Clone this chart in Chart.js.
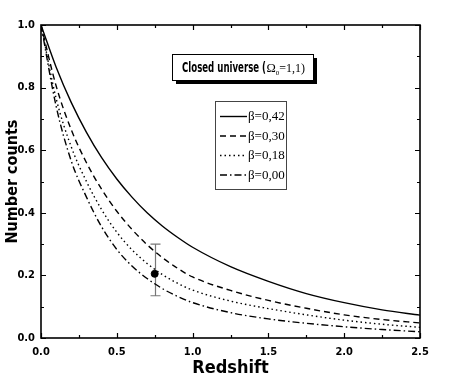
<!DOCTYPE html>
<html>
<head>
<meta charset="utf-8">
<script src="https://cdn.jsdelivr.net/npm/chart.js@4"></script>
<style>
html,body{margin:0;padding:0;background:#fff;}
#wrap{width:463px;height:382px;position:relative;}
</style>
</head>
<body>
<div id="wrap"><canvas id="c" width="463" height="382"></canvas></div>
<script>
// ---- data ----
const redshift = [0, 0.1, 0.2, 0.3, 0.4, 0.5, 0.6, 0.7, 0.8, 0.9, 1.0, 1.25, 1.5, 1.75, 2.0, 2.25, 2.5];
const beta042 = [1.0, 0.865, 0.752, 0.657, 0.576, 0.508, 0.450, 0.400, 0.358, 0.322, 0.290, 0.228, 0.181, 0.142, 0.113, 0.090, 0.073];
const beta030 = [1.0, 0.805, 0.665, 0.560, 0.475, 0.405, 0.347, 0.298, 0.257, 0.223, 0.195, 0.152, 0.120, 0.095, 0.074, 0.059, 0.048];
const beta018 = [1.0, 0.765, 0.610, 0.500, 0.410, 0.338, 0.282, 0.238, 0.203, 0.175, 0.153, 0.118, 0.094, 0.074, 0.057, 0.044, 0.034];
const beta000 = [1.0, 0.740, 0.565, 0.450, 0.355, 0.283, 0.230, 0.190, 0.158, 0.133, 0.113, 0.081, 0.061, 0.047, 0.036, 0.027, 0.020];
const seriesLabels = ['β=0,42', 'β=0,30', 'β=0,18', 'β=0,00'];
const obsX = [0.75];
const obsY = [0.205];
const obsLow = [0.135];
const obsHigh = [0.30];
const xTickStep = 0.5;
const yTickStep = 0.2;
const titleMain = 'Closed universe (';
const titleOmega = 'Ω';
const titleSub = '0';
const titleTail = '=1,1)';
const xTitle = 'Redshift';
const yTitle = 'Number counts';

const SANS = '"Liberation Sans Narrow", "Arial Narrow", "DejaVu Sans Condensed", "Liberation Sans", Arial, sans-serif';
const SERIF = '"Liberation Serif", "Times New Roman", serif';

const toPts = ys => redshift.map((x, i) => ({x: x, y: ys[i]}));
const dashes = [[], [6, 4], [1.5, 3], [7, 3, 1.5, 3]];
const allSeries = [beta042, beta030, beta018, beta000];

const datasets = allSeries.map((ys, i) => ({
  label: seriesLabels[i],
  data: toPts(ys),
  showLine: true,
  borderColor: '#000',
  borderWidth: 1.4,
  borderDash: dashes[i],
  pointRadius: 0,
  cubicInterpolationMode: 'monotone',
  fill: false
}));
datasets.push({
  label: 'obs',
  data: obsX.map((x, i) => ({x: x, y: obsY[i]})),
  showLine: false,
  pointRadius: 3.5,
  pointBackgroundColor: '#000',
  pointBorderColor: '#000'
});

const errorBars = {
  id: 'errorBars',
  beforeDatasetsDraw(chart) {
    const {ctx, scales: {x, y}} = chart;
    ctx.save();
    ctx.strokeStyle = '#777';
    ctx.lineWidth = 1.2;
    obsX.forEach((v, i) => {
      const px = Math.round(x.getPixelForValue(v)) + 0.5;
      const pl = y.getPixelForValue(obsLow[i]);
      const ph = y.getPixelForValue(obsHigh[i]);
      ctx.beginPath();
      ctx.moveTo(px, pl); ctx.lineTo(px, ph);
      ctx.moveTo(px - 5, pl); ctx.lineTo(px + 5, pl);
      ctx.moveTo(px - 5, ph); ctx.lineTo(px + 5, ph);
      ctx.stroke();
    });
    ctx.restore();
  }
};

function fitText(ctx, text, x, y, maxW) {
  const w = ctx.measureText(text).width;
  const s = w > maxW ? maxW / w : 1;
  ctx.save();
  ctx.translate(x, y);
  ctx.scale(s, 1);
  ctx.fillText(text, 0, 0);
  ctx.restore();
  return w * s;
}

const frame = {
  id: 'frame',
  afterDraw(chart) {
    const {ctx, chartArea: a, scales: {x, y}} = chart;
    ctx.save();
    ctx.strokeStyle = '#000';
    ctx.lineWidth = 1.6;
    ctx.strokeRect(a.left, a.top, a.right - a.left, a.bottom - a.top);
    ctx.lineWidth = 1.2;
    const xt = x.ticks.map(t => t.value);
    const xAll = [];
    xt.forEach((v, i) => { xAll.push([v, 5]); if (i < xt.length - 1) xAll.push([(v + xt[i + 1]) / 2, 3]); });
    ctx.beginPath();
    xAll.forEach(([v, L]) => {
      const p = Math.round(x.getPixelForValue(v)) + 0.5;
      ctx.moveTo(p, a.bottom); ctx.lineTo(p, a.bottom - L);
      ctx.moveTo(p, a.top); ctx.lineTo(p, a.top + L);
    });
    const yt = y.ticks.map(t => t.value);
    const yAll = [];
    yt.forEach((v, i) => { yAll.push([v, 5]); if (i < yt.length - 1) yAll.push([(v + yt[i + 1]) / 2, 3]); });
    yAll.forEach(([v, L]) => {
      const p = Math.round(y.getPixelForValue(v)) + 0.5;
      ctx.moveTo(a.left, p); ctx.lineTo(a.left + L, p);
      ctx.moveTo(a.right, p); ctx.lineTo(a.right - L, p);
    });
    ctx.stroke();

    // title box with shadow
    const bx = 172, by = 54, bw = 141, bh = 26;
    ctx.fillStyle = '#000';
    ctx.fillRect(bx + 4, by + 4, bw, bh);
    ctx.fillStyle = '#fff';
    ctx.fillRect(bx, by, bw, bh);
    ctx.lineWidth = 1;
    ctx.strokeStyle = '#000';
    ctx.strokeRect(bx + 0.5, by + 0.5, bw, bh);
    ctx.fillStyle = '#000';
    ctx.textBaseline = 'alphabetic';
    let tx = 182, ty = 71.5;
    ctx.font = 'bold 13.5px ' + SANS;
    tx += fitText(ctx, titleMain, tx, ty, 84) + 0.5;
    ctx.font = '12.5px ' + SERIF;
    tx += fitText(ctx, titleOmega, tx, ty, 10);
    ctx.font = '7px ' + SERIF;
    tx += fitText(ctx, titleSub, tx, ty + 3, 4);
    ctx.font = '12.5px ' + SERIF;
    fitText(ctx, titleTail, tx, ty, 305 - tx);

    // legend box
    const lx = 215, ly = 101, lw = 71, lh = 88;
    ctx.strokeStyle = '#444';
    ctx.lineWidth = 1;
    ctx.strokeRect(lx + 0.5, ly + 0.5, lw, lh);
    const rows = [116, 135.5, 155, 174.5];
    ctx.strokeStyle = '#000';
    ctx.font = '13px ' + SERIF;
    ctx.textBaseline = 'middle';
    chart.data.datasets.slice(0, 4).forEach((ds, i) => {
      ctx.beginPath();
      ctx.lineWidth = 1.4;
      ctx.setLineDash(ds.borderDash);
      ctx.moveTo(220, rows[i] + 0.5);
      ctx.lineTo(247, rows[i] + 0.5);
      ctx.stroke();
      ctx.setLineDash([]);
      ctx.fillText(ds.label, 248, rows[i] + 1);
    });
    ctx.restore();
  }
};

new Chart(document.getElementById('c'), {
  type: 'scatter',
  data: {datasets: datasets},
  options: {
    responsive: false,
    animation: false,
    events: [],
    layout: {padding: {top: 25, right: 43, left: 0, bottom: 0}},
    plugins: {legend: {display: false}, tooltip: {enabled: false}, title: {display: false}},
    scales: {
      x: {
        type: 'linear', min: 0, max: 2.5,
        grid: {display: false, drawTicks: false},
        border: {display: false},
        ticks: {stepSize: xTickStep, padding: 8, color: '#000',
          font: {family: SANS, size: 11, weight: 'bold'},
          callback: v => Number(v).toFixed(1)},
        title: {display: true, text: xTitle, color: '#000', padding: {top: 4, bottom: 3},
          font: {family: SANS, size: 18, weight: 'bold'}},
        afterFit: s => { s.height = 44; }
      },
      y: {
        type: 'linear', min: 0, max: 1.0,
        grid: {display: false, drawTicks: false},
        border: {display: false},
        ticks: {stepSize: yTickStep, padding: 6, color: '#000',
          font: {family: SANS, size: 11, weight: 'bold'},
          callback: v => Number(v).toFixed(1)},
        title: {display: true, text: yTitle, color: '#000', padding: {top: 3, bottom: 0},
          font: {family: SANS, size: 16, weight: 'bold'}},
        afterFit: s => { s.width = 41; }
      }
    }
  },
  plugins: [errorBars, frame]
});
</script>
</body>
</html>
